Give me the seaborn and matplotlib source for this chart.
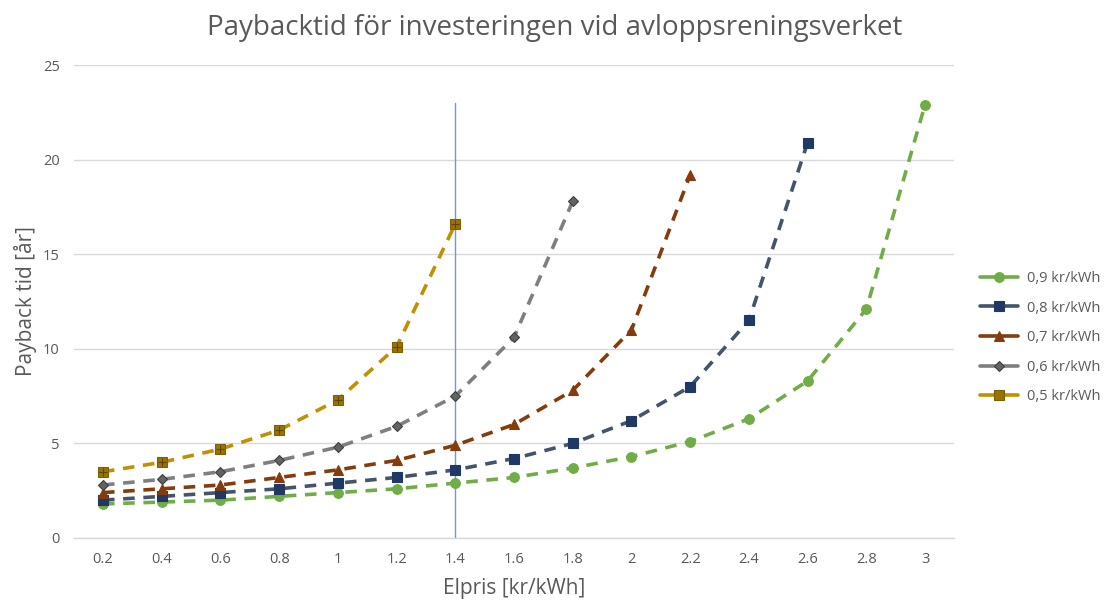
import matplotlib
matplotlib.use("Agg")
import matplotlib.pyplot as plt
import seaborn as sns
import pandas as pd

# Electricity price categories (kr/kWh)
elpris = ["0.2", "0.4", "0.6", "0.8", "1", "1.2", "1.4", "1.6", "1.8",
          "2", "2.2", "2.4", "2.6", "2.8", "3"]

# Payback time (years) for each cost level
pb_09 = [1.8, 1.9, 2.0, 2.2, 2.4, 2.6, 2.9, 3.2, 3.7, 4.3, 5.1, 6.3, 8.3, 12.1, 22.9]
pb_08 = [2.0, 2.2, 2.4, 2.6, 2.9, 3.2, 3.6, 4.2, 5.0, 6.2, 8.0, 11.5, 20.9]
pb_07 = [2.4, 2.6, 2.8, 3.2, 3.6, 4.1, 4.9, 6.0, 7.8, 11.0, 19.2]
pb_06 = [2.8, 3.1, 3.5, 4.1, 4.8, 5.9, 7.5, 10.6, 17.8]
pb_05 = [3.5, 4.0, 4.7, 5.7, 7.3, 10.1, 16.6]

series_names = ["0,9 kr/kWh", "0,8 kr/kWh", "0,7 kr/kWh", "0,6 kr/kWh", "0,5 kr/kWh"]
series_vals = [pb_09, pb_08, pb_07, pb_06, pb_05]

marker_line = 1.4   # reference electricity price
marker_top = 23.0

styles = {
    "0,9 kr/kWh": dict(line="#70AD47", face="#70AD47", edge="#70AD47", marker="o", ms=7),
    "0,8 kr/kWh": dict(line="#44546A", face="#1F3864", edge="#1F3864", marker="s", ms=6.5),
    "0,7 kr/kWh": dict(line="#843C0C", face="#843C0C", edge="#843C0C", marker="^", ms=7.5),
    "0,6 kr/kWh": dict(line="#7F7F7F", face="#636363", edge="#3F3F3F", marker="D", ms=5.5),
    "0,5 kr/kWh": dict(line="#BF9000", face="#997300", edge="#7F6000", marker="s", ms=7),
}

rows = []
for name, vals in zip(series_names, series_vals):
    for i, v in enumerate(vals):
        rows.append({"pos": i, "serie": name, "payback": v})
df = pd.DataFrame(rows)

sns.set_theme(style="white")
plt.rcParams["font.family"] = ["Open Sans", "DejaVu Sans"]

fig = plt.figure(figsize=(11.04, 6.03), dpi=100)
ax = fig.add_axes([0.0667, 0.1078, 0.7978, 0.7844])

for name in series_names:
    st = styles[name]
    sub = df[df["serie"] == name]
    sns.lineplot(data=sub, x="pos", y="payback", ax=ax, color=st["line"],
                 linewidth=2.6, linestyle=(0, (3.2, 2.4)), marker=st["marker"],
                 markersize=st["ms"], markerfacecolor=st["face"],
                 markeredgecolor=st["edge"], markeredgewidth=0.8,
                 label=name, errorbar=None)

# grid pattern inside the 0,5 kr/kWh square markers
sub05 = df[df["serie"] == "0,5 kr/kWh"]
ax.scatter(sub05["pos"], sub05["payback"], marker="+", s=38, color="#5C4500",
           linewidths=0.8, zorder=5)

# vertical reference line at 1.4 kr/kWh
xi = [float(v) for v in elpris].index(marker_line)
ax.plot([xi, xi], [0, marker_top], color="#6F97DA", linewidth=1.0, zorder=1)

ax.set_xlim(-0.5, len(elpris) - 0.5)
ax.set_ylim(0, 25)
ax.set_xticks(range(len(elpris)))
ax.set_xticklabels(elpris)
ax.set_yticks([0, 5, 10, 15, 20, 25])
ax.yaxis.grid(True, color="#D9D9D9", linewidth=1.0)
ax.set_axisbelow(True)
for s in ["top", "right", "left"]:
    ax.spines[s].set_visible(False)
ax.spines["bottom"].set_color("#D9D9D9")
ax.spines["bottom"].set_linewidth(1.0)
ax.tick_params(axis="both", colors="#595959", labelsize=10.5, length=0, pad=10)

ax.set_xlabel("Elpris [kr/kWh]", fontsize=15, color="#595959", labelpad=8)
ax.set_ylabel("Payback tid [år]", fontsize=15, color="#595959", labelpad=4)
fig.text(0.502, 0.953, "Paybacktid för investeringen vid avloppsreningsverket",
         ha="center", va="center", fontsize=20, color="#595959")

handles, labels = ax.get_legend_handles_labels()
if ax.get_legend() is not None:
    ax.get_legend().remove()
leg = fig.legend(handles, labels, loc="center left", bbox_to_anchor=(0.888, 0.44),
                 frameon=False, fontsize=10.5, labelspacing=1.0, handlelength=2.6,
                 handletextpad=0.6, borderpad=0, borderaxespad=0)
for t in leg.get_texts():
    t.set_color("#595959")
for h in leg.get_lines():
    h.set_linestyle("-")

fig.savefig("out.png", dpi=100)
